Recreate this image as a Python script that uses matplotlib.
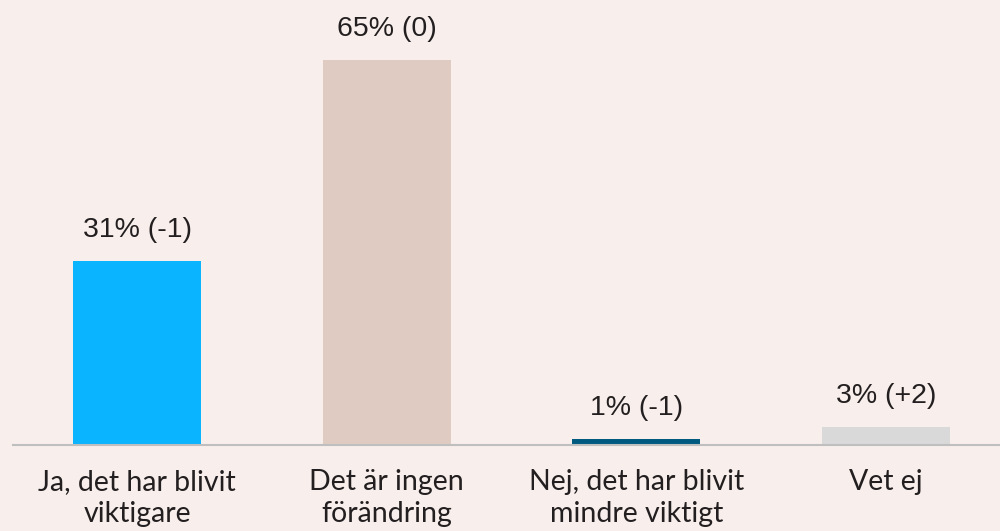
import matplotlib.pyplot as plt

categories = ["Ja, det har blivit\nviktigare", "Det är ingen\nförändring",
              "Nej, det har blivit\nmindre viktigt", "Vet ej"]
values = [31, 65, 1, 3]
changes = ["-1", "0", "-1", "+2"]
colors = ["#0ab4ff", "#dfcbc1", "#005a80", "#d9d9d9"]

bg = "#f8efec"
fig = plt.figure(figsize=(10, 5.31), dpi=100, facecolor=bg)
ax = fig.add_axes([0.0125, 0.162, 0.998, 0.806])
ax.set_facecolor(bg)

x = range(len(categories))
ax.bar(x, values, width=0.513, color=colors)

for i, (v, c) in enumerate(zip(values, changes)):
    ax.annotate(f"{v}% ({c})", (i, v), xytext=(0, 13), textcoords="offset points",
                ha="center", va="bottom", fontsize=20.5, color="#231f20",
                family="Liberation Sans")

ax.set_xlim(-0.5, 3.5)
ax.set_ylim(0, 72.3)
ax.set_xticks(list(x))
ax.set_xticklabels(categories, fontsize=20.5, color="#231f20", family="Lato",
                   linespacing=1.3)
ax.tick_params(axis="x", length=0, pad=17)
ax.set_yticks([])
for s in ["top", "right", "left"]:
    ax.spines[s].set_visible(False)
ax.spines["bottom"].set_color("#bfbfbf")
ax.spines["bottom"].set_linewidth(1.5)

plt.savefig("out.png", dpi=100, facecolor=bg)
